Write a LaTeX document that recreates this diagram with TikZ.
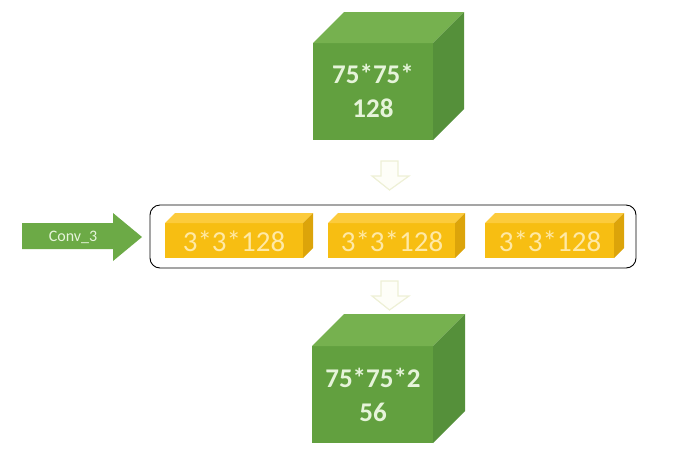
\documentclass[tikz,border=0pt]{standalone}
\usepackage{fontspec}
\setmainfont{Carlito}
\definecolor{gfront}{HTML}{62A03F}
\definecolor{gtop}{HTML}{76B14F}
\definecolor{gside}{HTML}{55903A}
\definecolor{gtext}{HTML}{E6F4DA}
\definecolor{yfront}{HTML}{F7BE12}
\definecolor{ytop}{HTML}{FCCB3C}
\definecolor{yside}{HTML}{DCA40A}
\definecolor{ytext}{HTML}{FFE9A6}
\definecolor{arrowgreen}{HTML}{6CAA46}
\definecolor{faintline}{HTML}{EEF0D6}
\definecolor{faintfill}{HTML}{FEFEF8}
% #1 left, #2 top, #3 right, #4 bottom, #5 depth, #6 colour prefix
\newcommand\solidbox[6]{%
  \fill[#6front] (#1,#2) rectangle (#3,#4);
  \fill[#6top] (#1,#2) -- (#1+#5,#2-#5) -- (#3+#5,#2-#5) -- (#3,#2) -- cycle;
  \fill[#6side] (#3,#2) -- (#3+#5,#2-#5) -- (#3+#5,#4-#5) -- (#3,#4) -- cycle;
}
\tikzset{
  cubetext/.style={text=gtext, font=\fontsize{27}{30}\selectfont\bfseries, align=center, inner sep=0pt},
  kerneltext/.style={text=ytext, font=\fontsize{29}{30}\selectfont, inner sep=0pt},
  downarrow/.style={draw=faintline, fill=faintfill, line width=1.2pt, line join=miter},
  container/.style={draw=black, line width=0.9pt, rounded corners=10pt},
}
\begin{document}
\begin{tikzpicture}[x=1pt,y=-1pt]
\useasboundingbox (0,0) rectangle (682,456);
% input cube
\solidbox{313}{43}{433}{140}{31}{g}
\node[cubetext] (incube) at (373,91) {75*75*\\[4pt]128};
% down arrow 1
\draw[downarrow] (381,161) -- (398,161) -- (398,176) -- (409,176) -- (389.5,190) -- (372,176) -- (381,176) -- cycle;
% container
\node[container, minimum width=486pt, minimum height=63pt] (layer) at (393,236.5) {};
% kernels
\solidbox{165}{223}{303}{258}{10}{y}
\node[kerneltext] (k1) at (234,241) {3*3*128};
\solidbox{328}{223}{455}{258}{10}{y}
\node[kerneltext] (k2) at (392,241) {3*3*128};
\solidbox{485}{223}{614}{258}{10}{y}
\node[kerneltext] (k3) at (550,241) {3*3*128};
% down arrow 2
\draw[downarrow] (381,281) -- (398,281) -- (398,296) -- (409,296) -- (389.5,310) -- (372,296) -- (381,296) -- cycle;
% output cube
\solidbox{312}{346}{433}{443}{32}{g}
\node[cubetext] (outcube) at (373,395) {75*75*2\\[4pt]56};
% conv arrow
\fill[arrowgreen] (22,223) -- (113,223) -- (113,213) -- (142,237) -- (113,261) -- (113,249) -- (22,249) -- cycle;
\node[text=gtext, font=\fontsize{16}{17}\selectfont, inner sep=0pt] (conv) at (73,237) {Conv\_3};
\end{tikzpicture}
\end{document}
